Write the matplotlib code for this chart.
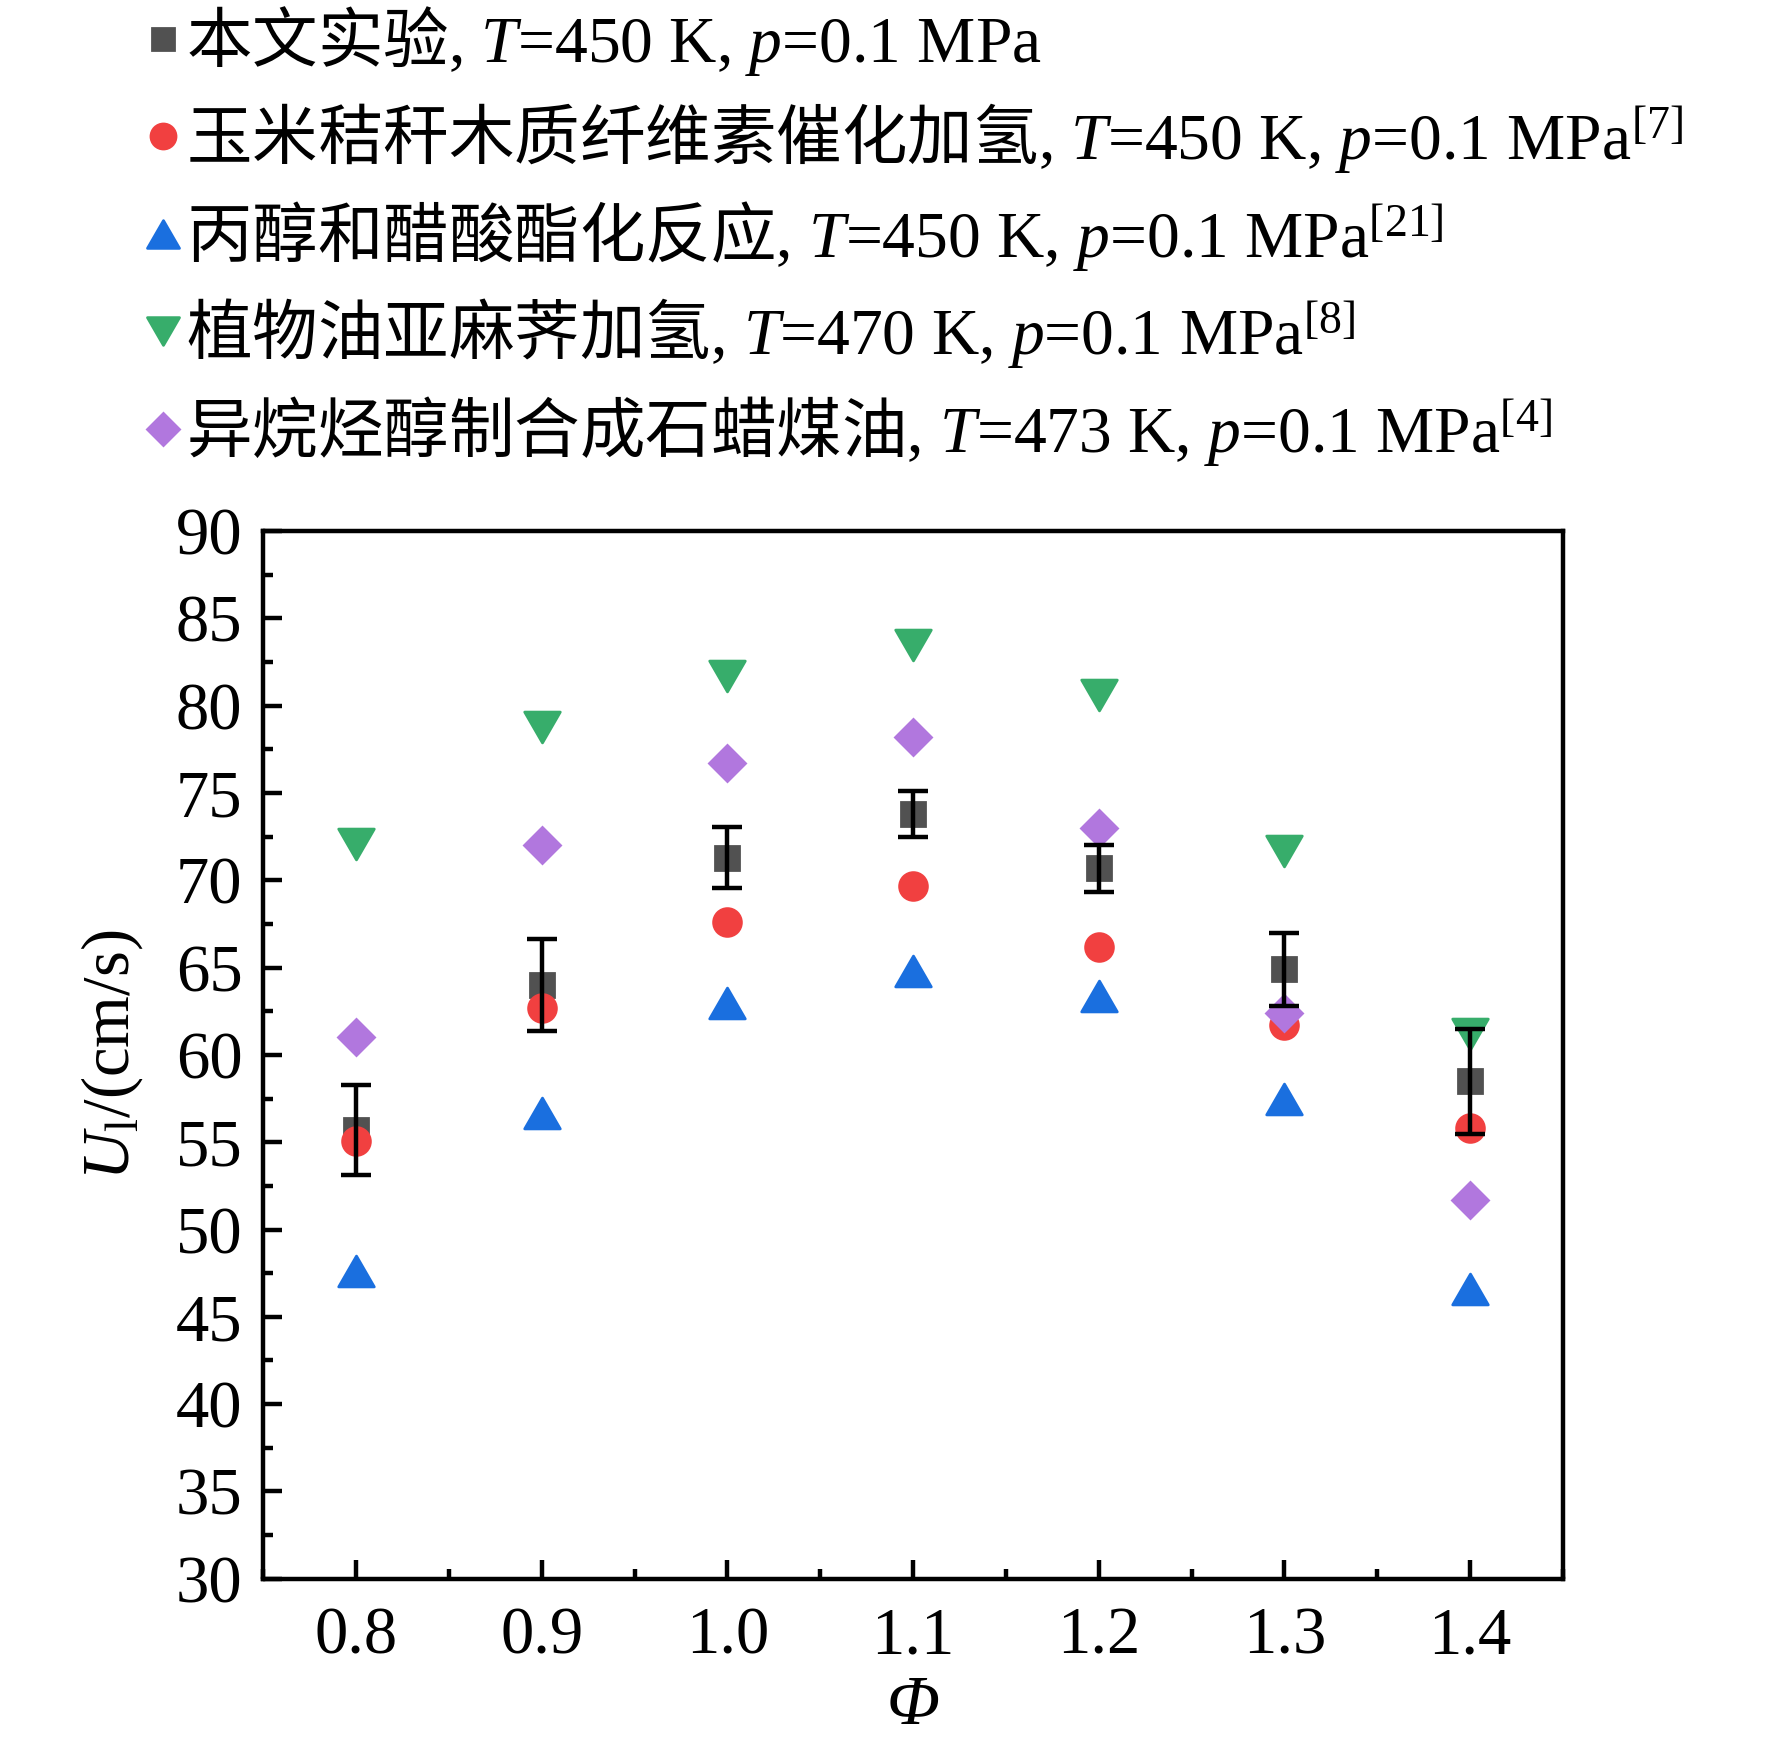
import matplotlib
matplotlib.use("Agg")
import matplotlib.pyplot as plt
from matplotlib.path import Path
from matplotlib.ticker import MultipleLocator

plt.rcParams["font.family"] = ["Liberation Serif", "Noto Sans CJK SC"]
plt.rcParams["mathtext.fontset"] = "custom"
plt.rcParams["mathtext.rm"] = "Liberation Serif"
plt.rcParams["mathtext.it"] = "Liberation Serif:italic"
# CJK words inside mathtext labels go through \mathsf
plt.rcParams["mathtext.sf"] = "Noto Sans CJK SC"

phi = [0.8, 0.9, 1.0, 1.1, 1.2, 1.3, 1.4]

exp_u = [55.7, 64.0, 71.3, 73.8, 70.7, 64.9, 58.5]
exp_err = [2.6, 2.65, 1.75, 1.3, 1.35, 2.1, 3.0]
corn_u = [55.1, 62.7, 67.6, 69.7, 66.2, 61.7, 55.8]
propanol_u = [47.6, 56.7, 63.0, 64.8, 63.4, 57.5, 46.6]
veg_oil_u = [72.1, 78.8, 81.7, 83.5, 80.6, 71.7, 61.2]
iso_u = [61.0, 72.0, 76.7, 78.2, 73.0, 62.4, 51.7]

labels = [
    r"$\mathsf{本文实验}$, $T$=450 K, $p$=0.1 MPa",
    r"$\mathsf{玉米秸秆木质纤维素催化加氢}$, $T$=450 K, $p$=0.1 MPa$^{[7]}$",
    r"$\mathsf{丙醇和醋酸酯化反应}$, $T$=450 K, $p$=0.1 MPa$^{[21]}$",
    r"$\mathsf{植物油亚麻荠加氢}$, $T$=470 K, $p$=0.1 MPa$^{[8]}$",
    r"$\mathsf{异烷烃醇制合成石蜡煤油}$, $T$=473 K, $p$=0.1 MPa$^{[4]}$",
]

# equilateral triangles like the original software draws
tri_up = Path([(-1, -0.866), (1, -0.866), (0, 0.866), (-1, -0.866)],
              [Path.MOVETO, Path.LINETO, Path.LINETO, Path.CLOSEPOLY])
tri_down = Path([(-1, 0.866), (1, 0.866), (0, -0.866), (-1, 0.866)],
                [Path.MOVETO, Path.LINETO, Path.LINETO, Path.CLOSEPOLY])

fig = plt.figure(figsize=(8.86, 8.705), dpi=200)
ax = fig.add_axes([0.1486, 0.0932, 0.7334, 0.6017])

h0, = ax.plot(phi, exp_u, ls="none", marker="s", ms=8.5, color="#515151", zorder=2)
h1, = ax.plot(phi, corn_u, ls="none", marker="o", ms=10, color="#F14040", zorder=3)
h2, = ax.plot(phi, propanol_u, ls="none", marker=tri_up, ms=12.8, color="#1A6FDF", zorder=3)
h3, = ax.plot(phi, veg_oil_u, ls="none", marker=tri_down, ms=12.8, color="#37AD6B", zorder=3)
h4, = ax.plot(phi, iso_u, ls="none", marker="D", ms=9.2, color="#B177DE", zorder=4)
ax.errorbar(phi, exp_u, yerr=exp_err, fmt="none", ecolor="black",
            elinewidth=1.6, capsize=5.5, capthick=1.6, zorder=5)

ax.set_xlim(0.75, 1.45)
ax.set_ylim(30, 90)
ax.xaxis.set_major_locator(MultipleLocator(0.1))
ax.xaxis.set_minor_locator(MultipleLocator(0.05))
ax.yaxis.set_major_locator(MultipleLocator(5))
ax.yaxis.set_minor_locator(MultipleLocator(2.5))
ax.set_xticks(phi)
ax.set_xticklabels([f"{v:.1f}" for v in phi])
ax.tick_params(which="both", direction="in", width=1.6, labelsize=24)
ax.tick_params(which="major", length=7)
ax.tick_params(which="minor", length=3.7)
ax.tick_params(axis="x", pad=10)
ax.tick_params(axis="y", pad=7.5)
for s in ax.spines.values():
    s.set_linewidth(1.6)

ax.set_xlabel("Φ", fontsize=25, style="italic", labelpad=3)
ax.set_ylabel(r"$U_{\mathrm{l}}$/(cm/s)", fontsize=24, labelpad=11)

fig.legend([h0, h1, h2, h3, h4], labels, loc="upper left",
           bbox_to_anchor=(0.066, 1.013), frameon=False, fontsize=23.6,
           handlelength=0.6, handletextpad=0.05, labelspacing=0.36,
           borderaxespad=0, markerscale=0.9)

fig.savefig("out.png", dpi=200)
